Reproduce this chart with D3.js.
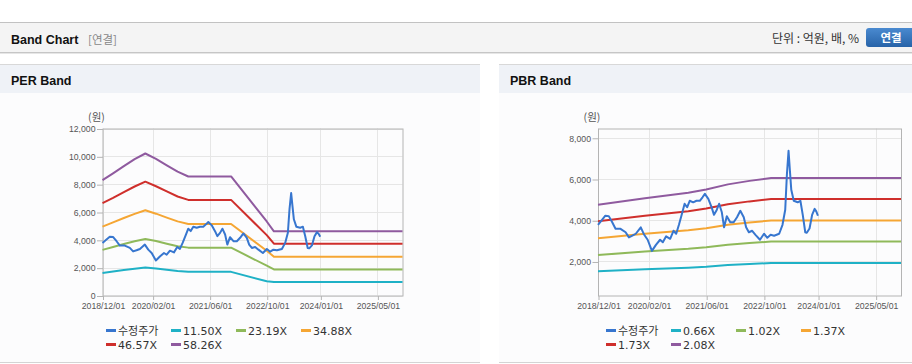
<!DOCTYPE html>
<html><head><meta charset="utf-8">
<script src="https://cdn.jsdelivr.net/npm/d3@7"></script>
<style>
body{margin:0;background:#fff;}
svg{display:block;font-family:"Liberation Sans",Arial,sans-serif;}
.kr{font-family:"Noto Sans CJK KR","Liberation Sans",sans-serif;}
.lg{font-family:"DejaVu Sans","Noto Sans CJK KR",sans-serif;}
</style>
</head><body>
<svg id="c" width="912" height="364"></svg>
<script>
// ---------- data ----------
const xStart = '2018-12-01';
const xEnd = '2025-12-01';
const xTickDates = ['2018-12-01','2020-02-01','2021-06-01','2022-10-01','2024-01-01','2025-05-01'];
const xTickLabels = ['2018/12/01','2020/02/01','2021/06/01','2022/10/01','2024/01/01','2025/05/01'];

const perYTicks = [0,2000,4000,6000,8000,10000,12000];
const perYDomain = [0,12000];
const pbrYTicks = [2000,4000,6000,8000];
const pbrYDomain = [350,8450];

const priceName = '수정주가';
const priceDates = ['2018-12-01','2019-01-04','2019-02-01','2019-03-02','2019-03-31','2019-04-28','2019-06-09','2019-07-22','2019-08-19','2019-09-17','2019-10-16','2019-11-27','2019-12-26','2020-01-24','2020-02-29','2020-04-03','2020-05-08','2020-05-31','2020-06-28','2020-08-01','2020-08-29','2020-09-21','2020-10-14','2020-11-12','2020-12-01','2020-12-22','2021-01-13','2021-02-11','2021-03-11','2021-04-08','2021-05-01','2021-05-21','2021-06-19','2021-07-17','2021-08-06','2021-08-29','2021-09-18','2021-10-11','2021-10-30','2021-11-22','2021-12-21','2022-01-19','2022-02-16','2022-03-16','2022-04-14','2022-05-04','2022-05-27','2022-06-24','2022-07-22','2022-08-29','2022-10-02','2022-10-30','2022-11-27','2022-12-26','2023-02-07','2023-03-07','2023-03-30','2023-04-13','2023-04-27','2023-05-08','2023-05-20','2023-06-10','2023-07-13','2023-08-05','2023-08-25','2023-09-15','2023-09-28','2023-10-21','2023-11-12','2023-12-03','2023-12-17','2023-12-31'];
const priceValues = [3780,4020,4220,4200,3900,3585,3585,3418,3170,3250,3345,3658,3294,3054,2516,2807,3054,2930,3222,3100,3490,3345,3780,4385,4800,4630,4945,4870,4945,4945,5113,5280,5040,4625,4262,4500,4800,4385,3658,4190,3900,3900,4145,4458,4145,3658,3418,3490,3294,3054,3345,3150,3294,3250,3345,3780,4509,6204,7367,6443,5476,4945,4872,4945,4262,3418,3389,3600,4262,4553,4430,4218];

const perBandNames = ['11.50X','23.19X','34.88X','46.57X','58.26X'];
const perBandDates = ['2018-12-01','2019-03-01','2019-06-01','2019-09-01','2019-12-01','2020-03-01','2020-06-01','2020-09-01','2020-12-01','2021-12-01','2022-10-01','2022-12-01','2025-12-01'];
const perBand1150 = [1620,1720,1830,1930,2010,1940,1850,1760,1700,1700,1020,965,965];
const perBand2319 = [3280,3490,3700,3900,4065,3910,3725,3545,3440,3440,2140,1870,1870];
const perBand3488 = [4946,5257,5568,5867,6130,5879,5600,5328,5140,5140,3220,2790,2790];
const perBand4657 = [6640,7018,7434,7833,8180,7849,7476,7114,6870,6870,4340,3720,3720];
const perBand5826 = [8290,8780,9300,9800,10204,9820,9353,8900,8553,8553,5320,4610,4610];

const pbrBandNames = ['0.66X','1.02X','1.37X','1.73X','2.08X'];
const pbrBandDates = ['2018-12-01','2020-01-01','2021-01-01','2021-06-01','2021-12-01','2022-06-01','2022-12-01','2025-12-01'];
const pbrBand066 = [1530,1620,1700,1745,1825,1878,1925,1925];
const pbrBand102 = [2310,2486,2614,2692,2815,2898,2967,2967];
const pbrBand137 = [3125,3340,3511,3616,3781,3893,3985,3985];
const pbrBand173 = [3955,4217,4433,4566,4774,4915,5030,5030];
const pbrBand208 = [4755,5070,5330,5490,5740,5910,6050,6050];

const colors = ['#3776cf','#1fb1c6','#8fb95a','#f5a634','#cf2f2c','#8f5a9f'];

// ---------- drawing ----------
const P = d3.timeParse('%Y-%m-%d');
const svg = d3.select('#c');

// top header
svg.append('rect').attr('x',0).attr('y',22).attr('width',912).attr('height',31).attr('fill','#f4f4f4');
svg.append('line').attr('x1',0).attr('x2',912).attr('y1',22.5).attr('y2',22.5).attr('stroke','#c2c2c2');
svg.append('line').attr('x1',0).attr('x2',912).attr('y1',52.5).attr('y2',52.5).attr('stroke','#c6c6c6');
svg.append('line').attr('x1',0).attr('x2',912).attr('y1',53.5).attr('y2',53.5).attr('stroke','#e6e6e6');
svg.append('text').attr('x',11).attr('y',43.5).attr('font-size',12.5).attr('font-weight','bold').attr('fill','#111').text('Band Chart');
svg.append('text').attr('class','kr').attr('x',88).attr('y',43.5).attr('font-size',11.5).attr('fill','#888').text('[연결]');
svg.append('text').attr('class','kr').attr('x',859).attr('y',43).attr('font-size',12).attr('fill','#333').attr('text-anchor','end').text('단위 : 억원, 배, %');
const defs = svg.append('defs');
const g = defs.append('linearGradient').attr('id','btn').attr('x1',0).attr('x2',0).attr('y1',0).attr('y2',1);
g.append('stop').attr('offset','0%').attr('stop-color','#4a8ad0');
g.append('stop').attr('offset','100%').attr('stop-color','#2763a8');
svg.append('rect').attr('x',866).attr('y',28).attr('width',52).attr('height',19).attr('rx',3).attr('fill','url(#btn)');
svg.append('text').attr('class','kr').attr('x',891).attr('y',42).attr('font-size',11.5).attr('font-weight','bold').attr('fill','#fff').attr('text-anchor','middle').text('연결');

function panel(x0, w, title){
  svg.append('rect').attr('x',x0).attr('y',64).attr('width',w).attr('height',299).attr('fill','#fcfcfd');
  svg.append('rect').attr('x',x0).attr('y',64).attr('width',w).attr('height',29).attr('fill','#eff2f7');
  svg.append('line').attr('x1',x0).attr('x2',x0+w).attr('y1',64.5).attr('y2',64.5).attr('stroke','#d8d8d8');
  svg.append('line').attr('x1',x0).attr('x2',x0+w).attr('y1',362.5).attr('y2',362.5).attr('stroke','#d4d4d4');
  svg.append('text').attr('x',x0+11).attr('y',85).attr('font-size',12.5).attr('font-weight','bold').attr('fill','#111').text(title);
}
panel(0,480,'PER Band');
panel(499,413,'PBR Band');

function chart(cfg){
  const x = d3.scaleTime().domain([P(xStart),P(xEnd)]).range([cfg.left,cfg.right]);
  const y = d3.scaleLinear().domain(cfg.yDomain).range([cfg.bottom,cfg.top]);
  const gg = svg.append('g');
  // grid
  gg.selectAll('.hg').data(cfg.yTicks).enter().append('line')
    .attr('x1',cfg.left).attr('x2',cfg.right).attr('y1',d=>Math.round(y(d))+0.5).attr('y2',d=>Math.round(y(d))+0.5)
    .attr('stroke','#e6e6e6');
  gg.selectAll('.vg').data(xTickDates).enter().append('line')
    .attr('y1',cfg.top).attr('y2',cfg.bottom).attr('x1',d=>Math.round(x(P(d)))+0.5).attr('x2',d=>Math.round(x(P(d)))+0.5)
    .attr('stroke','#e6e6e6');
  // box
  gg.append('rect').attr('x',cfg.left+0.5).attr('y',cfg.top+0.5).attr('width',cfg.right-cfg.left).attr('height',cfg.bottom-cfg.top)
    .attr('fill','none').attr('stroke','#b4b4b4');
  // axes
  const ya = gg.append('g').attr('transform',`translate(${cfg.left+0.5},0.5)`)
    .call(d3.axisLeft(y).tickValues(cfg.yTicks).tickFormat(d3.format(',')).tickSize(6).tickPadding(1.5));
  const xa = gg.append('g').attr('transform',`translate(0.5,${cfg.bottom+0.5})`)
    .call(d3.axisBottom(x).tickValues(xTickDates.map(P)).tickFormat((d,i)=>xTickLabels[i]).tickSize(4).tickPadding(3));
  [ya,xa].forEach(a=>{
    a.select('.domain').remove();
    a.selectAll('line').attr('stroke','#b4b4b4');
    a.selectAll('text').attr('fill','#555').attr('font-size',8.7).attr('font-family','"Liberation Sans",Arial,sans-serif');
  });
  gg.append('text').attr('class','kr').attr('x',cfg.left-6).attr('y',cfg.top-8).attr('text-anchor','middle')
    .attr('font-size',10.5).attr('fill','#555').text('(원)');
  // lines
  const line = d3.line().x(d=>x(d[0])).y(d=>y(d[1]));
  cfg.bands.forEach((vals,i)=>{
    const pts = cfg.bandDates.map((d,j)=>[P(d),vals[j]]);
    gg.append('path').attr('d',line(pts)).attr('fill','none').attr('stroke',colors[i+1]).attr('stroke-width',2).attr('stroke-linejoin','round');
  });
  const pp = priceDates.map((d,j)=>[P(d),priceValues[j]]);
  gg.append('path').attr('d',line(pp)).attr('fill','none').attr('stroke',colors[0]).attr('stroke-width',2).attr('stroke-linejoin','round');
  // legend
  const names = [priceName].concat(cfg.bandNames);
  names.forEach((n,i)=>{
    const col = i%4, row = Math.floor(i/4);
    const lx = cfg.legendX + col*65, ly = 330.5 + row*14;
    gg.append('line').attr('x1',lx).attr('x2',lx+10).attr('y1',ly).attr('y2',ly).attr('stroke',colors[i]).attr('stroke-width',3);
    gg.append('text').attr('class','lg').attr('x',lx+12).attr('y',ly+4).attr('font-size',11).attr('fill','#333').text(n);
  });
}

chart({left:102.5,right:402.5,top:128.5,bottom:295.5,yDomain:perYDomain,yTicks:perYTicks,
  bandDates:perBandDates,bands:[perBand1150,perBand2319,perBand3488,perBand4657,perBand5826],bandNames:perBandNames,legendX:106});
chart({left:598,right:901,top:128.5,bottom:295.5,yDomain:pbrYDomain,yTicks:pbrYTicks,
  bandDates:pbrBandDates,bands:[pbrBand066,pbrBand102,pbrBand137,pbrBand173,pbrBand208],bandNames:pbrBandNames,legendX:606});
</script>
</body></html>
